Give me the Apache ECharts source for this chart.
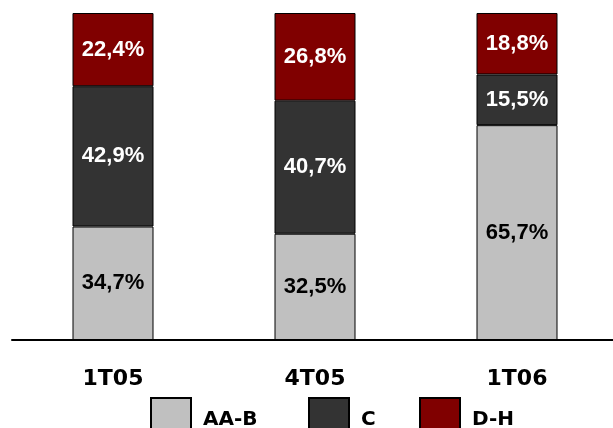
<!DOCTYPE html>
<html><head><meta charset="utf-8">
<script src="https://cdn.jsdelivr.net/npm/echarts@6/dist/echarts.min.js"></script>
<style>html,body{margin:0;padding:0;background:#fff}#c{width:613px;height:428px}</style>
</head><body><div id="c"></div>
<script>
const categories = ['1T05', '4T05', '1T06'];
const seriesNames = ['AA-B', 'C', 'D-H'];
const valuesAAB = [34.7, 32.5, 65.7];
const valuesC = [42.9, 40.7, 15.5];
const valuesDH = [22.4, 26.8, 18.8];
const colors = ['#c0c0c0', '#333333', '#800000'];
const labelColors = ['#000000', '#ffffff', '#ffffff'];
const allValues = [valuesAAB, valuesC, valuesDH];

const chart = echarts.init(document.getElementById('c'));
const fmt = p => p.value.toFixed(1).replace('.', ',') + '%';
const series = seriesNames.map((n, i) => ({
  name: n, type: 'bar', stack: 'all', barWidth: 81,
  data: allValues[i],
  itemStyle: { color: colors[i], borderColor: '#000', borderWidth: 1 },
  label: { show: true, position: 'inside', formatter: fmt, color: labelColors[i],
    fontFamily: 'Liberation Sans, Arial, sans-serif', fontWeight: 'bold', fontSize: 22,
    textBorderWidth: 0 }
}));
const legendLefts = [145, 303, 414];
chart.setOption({
  animation: false,
  grid: { left: 12, width: 606, top: 13, bottom: 88, outerBoundsMode: 'none', containLabel: false },
  xAxis: { type: 'category', data: categories,
    axisLine: { lineStyle: { color: '#000', width: 2 } },
    axisTick: { show: false },
    axisLabel: { color: '#000', fontFamily: 'DejaVu Sans, Verdana, sans-serif', fontWeight: 'bold', fontSize: 22, margin: 28 } },
  yAxis: { type: 'value', min: 0, max: 100, show: false, splitLine: { show: false } },
  legend: seriesNames.map((n, i) => ({
    data: [n], left: legendLefts[i], top: 392, itemWidth: 40, itemHeight: 43, icon: 'rect',
    textStyle: { color: '#000', fontFamily: 'DejaVu Sans, Verdana, sans-serif', fontWeight: 'bold', fontSize: 20, padding: [6, 0, 0, 7] }
  })),
  series: series
});
</script></body></html>
